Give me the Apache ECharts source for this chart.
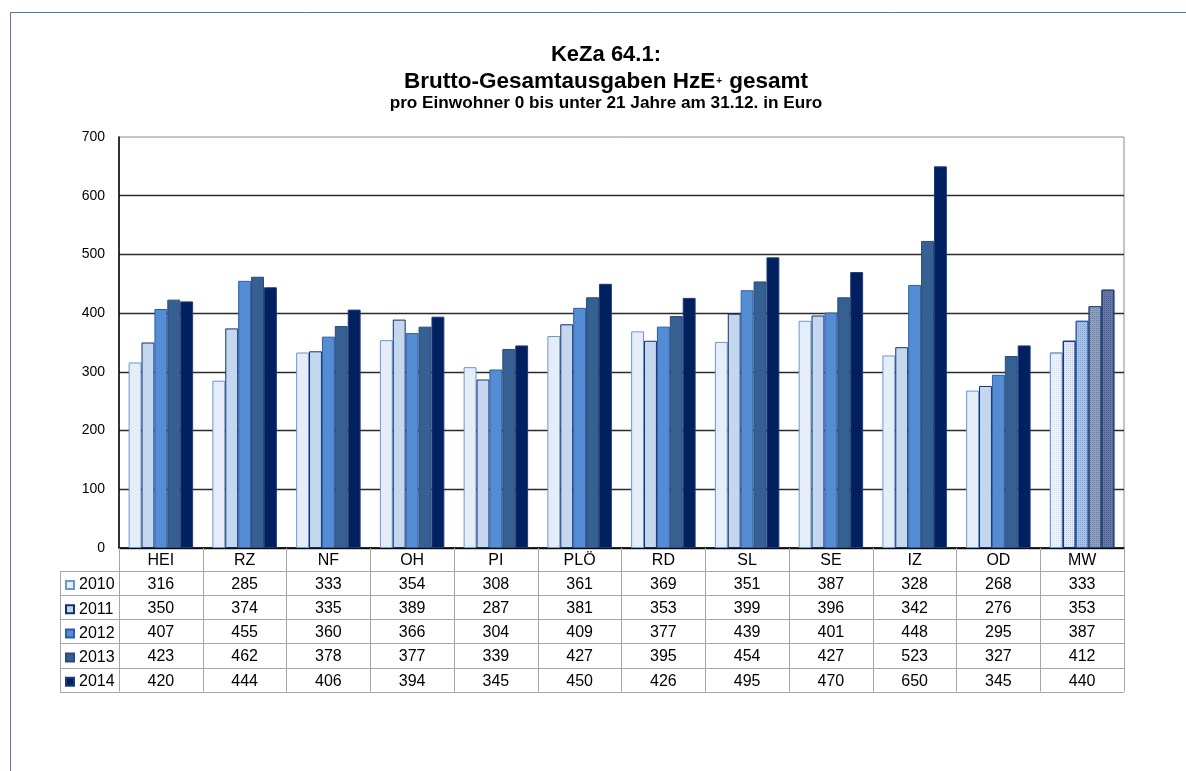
<!DOCTYPE html>
<html><head><meta charset="utf-8">
<script src="https://cdn.jsdelivr.net/npm/echarts@6/dist/echarts.min.js"></script>
<style>html,body{margin:0;padding:0;background:#fff}#c{width:1186px;height:771px}</style>
</head><body><div id="c"></div>
<script>
// ---- data ----
const categories = ['HEI','RZ','NF','OH','PI','PLÖ','RD','SL','SE','IZ','OD','MW'];
const years = ['2010','2011','2012','2013','2014'];
const v2010 = [316,285,333,354,308,361,369,351,387,328,268,333];
const v2011 = [350,374,335,389,287,381,353,399,396,342,276,353];
const v2012 = [407,455,360,366,304,409,377,439,401,448,295,387];
const v2013 = [423,462,378,377,339,427,395,454,427,523,327,412];
const v2014 = [420,444,406,394,345,450,426,495,470,650,345,440];
const yMin = 0, yMax = 700, yStep = 100;
const titleLine1 = 'KeZa 64.1:';
const titleLine2a = 'Brutto-Gesamtausgaben HzE';
const titleSup = '+';
const titleLine2b = ' gesamt';
const titleLine3 = 'pro Einwohner 0 bis unter 21 Jahre am 31.12. in Euro';

const seriesValues = [v2010, v2011, v2012, v2013, v2014];

// ---- styles ----
const FONT = '"Liberation Sans", Arial, sans-serif';
const fills   = ['#e4edf8','#c5d6ef','#548dd4','#376092','#002060'];
const borders = ['#6b97d0','#12306e','#2d5da6','#2a4a78','#1f3a78'];
const mwFills = ['#eff4fb','#e1e9f6','#a6c1ea','#8e9fbf','#6878a6'];
const mwDots  = ['rgba(120,150,200,0.25)','rgba(90,120,180,0.25)','rgba(60,100,170,0.35)','rgba(50,70,110,0.35)','rgba(30,40,80,0.35)'];

const GL = 119, GR = 1124, GT = 137, GB = 548;
const rowH = 24.2, tableTop = 570.7, tableLeft = 60;
const tableBottom = tableTop + years.length * rowH;

const chart = echarts.init(document.getElementById('c'), null, {renderer:'canvas'});

const series = years.map((y, si) => ({
  name: y,
  type: 'bar',
  barGap: '0%',
  barCategoryGap: '23%',
  itemStyle: {color: fills[si], borderColor: borders[si], borderWidth: 1},
  data: seriesValues[si].map((v, ci) => categories[ci] === 'MW' ? {
    value: v,
    itemStyle: {
      color: mwFills[si], borderColor: borders[si], borderWidth: 1,
      decal: {symbol:'rect', symbolSize:1, dashArrayX:[1,1], dashArrayY:[1,1], color: mwDots[si]}
    }
  } : v)
}));

const graphics = [];
// outer frame
graphics.push({type:'rect', silent:true, shape:{x:10.5, y:12.5, width:1400, height:900},
  style:{fill:null, stroke:'#5873a6', lineWidth:1}});
// title
graphics.push({type:'text', x:606, y:44, silent:true,
  style:{text:titleLine1, font:'bold 22px ' + FONT, fill:'#000', textAlign:'center', textVerticalAlign:'top'}});
graphics.push({type:'text', x:606, y:69, silent:true,
  style:{
    text:'{a|' + titleLine2a + '}{s|' + titleSup + '}{a|' + titleLine2b + '}',
    textAlign:'center', textVerticalAlign:'top',
    rich:{
      a:{font:'bold 22.5px ' + FONT, fill:'#000', lineHeight:26},
      s:{font:'bold 10px ' + FONT, fill:'#000', lineHeight:26, verticalAlign:'middle', padding:[0,1,2,1]}
    }
  }});
graphics.push({type:'text', x:606, y:95, silent:true,
  style:{text:titleLine3, font:'bold 17.2px ' + FONT, fill:'#000', textAlign:'center', textVerticalAlign:'top'}});
// table horizontal lines
for (let k = 0; k <= years.length; k++) {
  const y = Math.round(tableTop + k*rowH) + 0.5;
  graphics.push({type:'line', silent:true, shape:{x1:tableLeft, y1:y, x2:GR, y2:y},
    style:{stroke:'#a6a6a6', lineWidth:1}});
}
graphics.push({type:'line', silent:true,
  shape:{x1:tableLeft+0.5, y1:Math.round(tableTop)+0.5, x2:tableLeft+0.5, y2:Math.round(tableBottom)+0.5},
  style:{stroke:'#a6a6a6', lineWidth:1}});

chart.setOption({
  animation:false,
  backgroundColor:'#ffffff',
  textStyle:{fontFamily:FONT},
  grid:{left:GL, right:1186-GR, top:GT, bottom:771-GB, show:true, borderColor:'#8c8c8c', borderWidth:1, backgroundColor:'transparent'},
  legend:{
    data: years, orient:'vertical', left:65, top:577, padding:0,
    icon:'rect', itemWidth:8, itemHeight:8, itemGap:8.2,
    textStyle:{fontSize:16, color:'#000', fontFamily:FONT, lineHeight:16},
    selectedMode:false
  },
  xAxis:{
    type:'category', data:categories,
    axisLine:{lineStyle:{color:'#000', width:1.5}},
    axisTick:{show:true, interval:0, length: tableBottom - GB, inside:false, lineStyle:{color:'#a6a6a6'}},
    axisLabel:{
      interval:0, margin:0, fontSize:16, color:'#000', lineHeight:rowH, fontFamily:FONT,
      formatter:(val, idx) => [val].concat(seriesValues.map(a => a[idx])).join('\n')
    }
  },
  yAxis:{
    type:'value', min:yMin, max:yMax, interval:yStep,
    axisLine:{show:true, lineStyle:{color:'#000', width:1.5}},
    axisTick:{show:false},
    axisLabel:{fontSize:14, color:'#000', margin:14, fontFamily:FONT},
    splitLine:{showMaxLine:false, lineStyle:{color:'#2a2a2a', width:1.3}}
  },
  series: series,
  graphic: graphics
});
</script>
</body></html>
